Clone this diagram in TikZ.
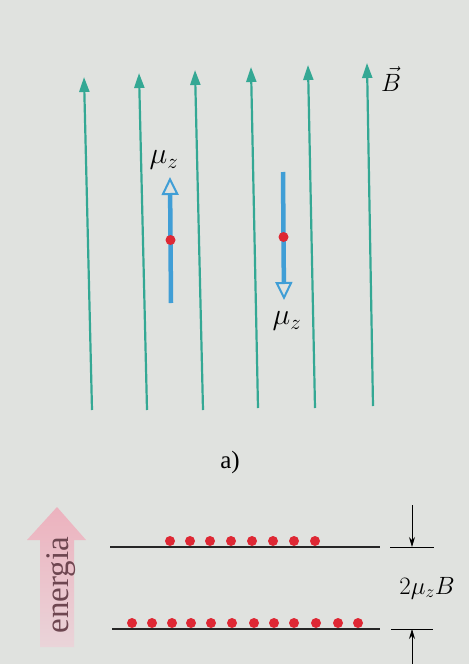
\RequirePackage{fix-cm}
\documentclass[tikz,border=0pt]{standalone}
\usepackage{fontspec}
\setmainfont{Liberation Serif}
\usetikzlibrary{arrows.meta}
\definecolor{bg}{RGB}{224,226,223}
\definecolor{field}{RGB}{52,168,148}
\definecolor{dip}{RGB}{64,158,214}
\definecolor{dotred}{RGB}{222,40,52}
\definecolor{pinktop}{RGB}{236,178,190}
\definecolor{pinkbot}{RGB}{234,212,217}
\definecolor{entext}{RGB}{110,70,80}
\tikzset{
  fieldline/.style={draw=field, line width=2.2pt, -{Triangle[width=10pt,length=15pt]}},
  dipole/.style={draw=dip, line width=4.5pt, -{Triangle[open,width=17pt,length=18pt,line width=2pt,fill=bg]}},
  reddot/.style={circle, fill=dotred, inner sep=0pt, minimum size=10pt},
  level/.style={draw=black!85, line width=1.3pt},
  dim/.style={draw=black, line width=0.8pt, -{Stealth[width=6pt,length=10pt]}},
  lbl/.style={font=\fontsize{25}{28}\selectfont, inner sep=0pt},
  mulbl/.style={font=\fontsize{30}{33}\selectfont, inner sep=0pt}
}
\begin{document}
\begin{tikzpicture}[x=1pt,y=-1pt]
\fill[bg] (0,0) rectangle (469,664);
\useasboundingbox (0,0) rectangle (469,664);
% field lines
\foreach \i/\xb/\yb/\xt/\yt in {1/92/410/84/77, 2/147/410/139/73, 3/203/410/195/70, 4/258/408/251/67, 5/315/408/308/65, 6/373/406/367/63}{
  \coordinate (fb\i) at (\xb,\yb);
  \coordinate (ft\i) at (\xt,\yt);
  \draw[fieldline] (fb\i) -- (ft\i);
}
\node[lbl, anchor=west] (B) at (381,79) {$\vec{B}$};
% dipoles
\coordinate (u1) at (171,303);
\coordinate (u2) at (170,177);
\draw[dipole] (u1) -- (u2);
\node[reddot] (du) at (170.5,240) {};
\node[mulbl] (muup) at (164,160) {$\mu_z$};
\coordinate (d1) at (283,172);
\coordinate (d2) at (284,300);
\draw[dipole] (d1) -- (d2);
\node[reddot] (dd) at (283.5,237) {};
\node[mulbl] (mudown) at (287,321) {$\mu_z$};
\node[lbl] (a) at (230,462) {a)};
% energy arrow
\shade[top color=pinktop, bottom color=pinkbot] (40,647) -- (40,540) -- (27,540) -- (57,507) -- (86,540) -- (74,540) -- (74,647) -- cycle;
\node[lbl, font=\fontsize{33}{36}\selectfont, rotate=90, text=entext] (en) at (61,585) {energia};
% levels
\coordinate (l1a) at (110,547); \coordinate (l1b) at (380,547);
\coordinate (l2a) at (112,629); \coordinate (l2b) at (380,629);
\draw[level] (l1a) -- (l1b);
\draw[level] (l2a) -- (l2b);
\foreach \x [count=\k] in {170,190,210,231,252,273,294,315}{
  \node[reddot] (t\k) at (\x,541) {};
}
\foreach \x [count=\k] in {132,152,172,191,211,232,254,274,294,316,338,358}{
  \node[reddot] (b\k) at (\x,623) {};
}
% dimension
\coordinate (r1a) at (390,547); \coordinate (r1b) at (434,547);
\coordinate (r2a) at (391,629); \coordinate (r2b) at (433,629);
\draw[line width=0.8pt] (r1a) -- (r1b);
\draw[line width=0.8pt] (r2a) -- (r2b);
\coordinate (s1) at (412,505); \coordinate (e1) at (412,547);
\coordinate (s2) at (412,664); \coordinate (e2) at (412,629);
\draw[dim] (s1) -- (e1);
\draw[dim] (s2) -- (e2);
\node[lbl] (gap) at (427,588) {$2\mu_z B$};
\end{tikzpicture}
\end{document}
